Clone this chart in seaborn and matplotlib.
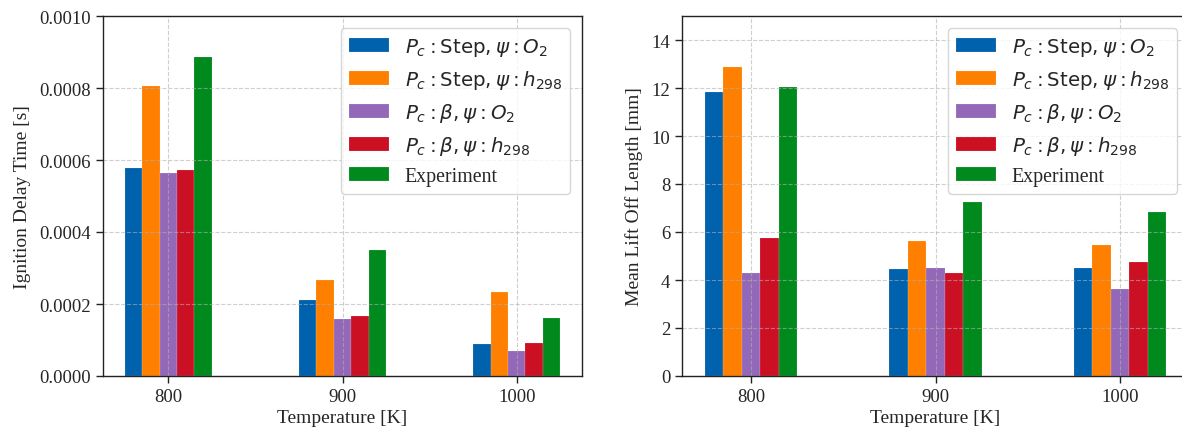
import numpy as np
import pandas as pd
import matplotlib
matplotlib.use("Agg")
import matplotlib.pyplot as plt
import seaborn as sns

temperatures = ["800", "900", "1000"]
series = [r"$P_c: \mathrm{Step}, \psi: O_2$",
          r"$P_c: \mathrm{Step}, \psi: h_{298}$",
          r"$P_c: \beta, \psi: O_2$",
          r"$P_c: \beta, \psi: h_{298}$",
          "Experiment"]
colors = ["#0061AD", "#FF7F00", "#9468B8", "#CC1024", "#008A1E"]

# Ignition delay time [s]
idt_step_o2 = [0.000577, 0.000212, 0.0000889]
idt_step_h298 = [0.000806, 0.000267, 0.000232]
idt_beta_o2 = [0.000565, 0.000158, 0.0000686]
idt_beta_h298 = [0.000571, 0.000166, 0.0000917]
idt_exp = [0.000885, 0.000349, 0.000160]

# Mean lift off length [mm]
lol_step_o2 = [11.85, 4.45, 4.52]
lol_step_h298 = [12.86, 5.64, 5.46]
lol_beta_o2 = [4.31, 4.49, 3.64]
lol_beta_h298 = [5.74, 4.31, 4.73]
lol_exp = [12.05, 7.24, 6.84]

def long_df(cols):
    rows = []
    for s, vals in zip(series, cols):
        for t, v in zip(temperatures, vals):
            rows.append({"T": t, "series": s, "value": v})
    return pd.DataFrame(rows)

df_idt = long_df([idt_step_o2, idt_step_h298, idt_beta_o2, idt_beta_h298, idt_exp])
df_lol = long_df([lol_step_o2, lol_step_h298, lol_beta_o2, lol_beta_h298, lol_exp])

sns.set_style("ticks")
plt.rcParams["font.family"] = ["Liberation Serif", "DejaVu Serif"]
plt.rcParams["mathtext.fontset"] = "dejavusans"
plt.rcParams["axes.edgecolor"] = "#222222"
plt.rcParams["axes.linewidth"] = 1.0

W, H = 1182, 431
fig = plt.figure(figsize=(W / 100, H / 100), dpi=100)
ax1 = fig.add_axes([103 / W, (H - 377) / H, (582 - 103) / W, 360 / H])
ax2 = fig.add_axes([682 / W, (H - 377) / H, (1189 - 682) / W, 360 / H])

for ax, df, ylabel in [(ax1, df_idt, "Ignition Delay Time [s]"),
                       (ax2, df_lol, "Mean Lift Off Length [mm]")]:
    sns.barplot(data=df, x="T", y="value", hue="series", order=temperatures,
                hue_order=series, palette=colors, width=0.5, gap=0,
                edgecolor=(1, 1, 1, 0.35), linewidth=0.3, ax=ax, errorbar=None,
                saturation=1)
    ax.set_xlim(-0.375, 2.375)
    ax.set_xlabel("Temperature [K]", fontsize=14, labelpad=3)
    ax.set_ylabel(ylabel, fontsize=14, labelpad=6)
    ax.tick_params(axis="both", labelsize=13.5, direction="out", length=5,
                   width=1, color="#222222")
    ax.grid(True, linestyle="--", color="#b0b0b0", linewidth=0.8, alpha=0.6)
    ax.set_axisbelow(False)
    for sp in ax.spines.values():
        sp.set_visible(True)
        sp.set_zorder(5)
    leg = ax.legend(loc="upper right", fontsize=14.3, framealpha=0.8,
                    edgecolor="#cccccc", fancybox=True, handlelength=2.0,
                    borderaxespad=0.6)
    leg.set_zorder(6)
    leg.set_title(None)

ax1.set_ylim(0, 0.0010)
ax1.set_yticks(np.arange(0, 0.00101, 0.0002))
ax1.yaxis.set_major_formatter(matplotlib.ticker.FormatStrFormatter("%.4f"))
ax2.set_ylim(0, 15)
ax2.set_yticks(np.arange(0, 15, 2))

fig.savefig("out.png", dpi=100)
